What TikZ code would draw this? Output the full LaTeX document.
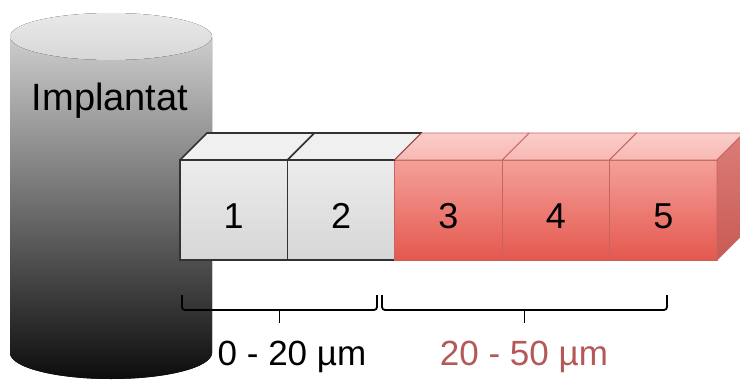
\documentclass[tikz,border=0pt]{standalone}
\usepackage{fontspec}
\setmainfont{Liberation Sans}
\usepackage{xcolor}
\usetikzlibrary{positioning}
\definecolor{edge}{RGB}{50,50,50}
\definecolor{gtopc}{RGB}{240,240,240}
\definecolor{gfa}{RGB}{236,236,236}
\definecolor{gfb}{RGB}{214,214,214}
\definecolor{redge}{RGB}{200,100,96}
\definecolor{rfa}{RGB}{244,160,154}
\definecolor{rfb}{RGB}{228,88,78}
\definecolor{rtopc}{RGB}{248,184,179}
\definecolor{rsa}{RGB}{220,125,120}
\definecolor{rsb}{RGB}{200,90,84}
\definecolor{lred}{RGB}{180,88,88}
\definecolor{cyla}{RGB}{205,205,205}
\definecolor{cylb}{RGB}{125,125,125}
\definecolor{cylc}{RGB}{12,12,12}
\tikzstyle{gc}=[draw=edge, line width=1.6pt, top color=gfa, bottom color=gfb,
		minimum width=107.4pt, minimum height=100pt, inner sep=0, outer sep=0,
		text height=37pt, text depth=0pt, font=\fontsize{36}{40}\selectfont]
\tikzstyle{rc}=[gc, draw=redge, line width=0.9pt, top color=rfa, bottom color=rfb]
\tikzstyle{gt}=[draw=edge, line width=1.6pt, fill=gtopc, line join=round]
\tikzstyle{rt}=[draw=redge, line width=0.9pt, top color=rtopc!70!white, bottom color=rtopc,
		line join=round]
\tikzstyle{brk}=[draw=black, line width=1.8pt, rounded corners=3pt]
\tikzstyle{txt}=[inner sep=0, font=\fontsize{35}{40}\selectfont]

\begin{document}
\begin{tikzpicture}[x=1pt, y=-1pt]
                \useasboundingbox (0,0) rectangle (740,383);
                \clip (0,0) rectangle (740,383);
                \fill[white] (0,0) rectangle (740,383);

                \fill[top color=cyla, middle color=cylb, bottom color=cylc] (10,36.5) -- (10,353)
                    arc[start angle=180, end angle=0, x radius=101, y radius=26] -- (212,36.5) -- cycle;
                \fill[top color=gtopc!80!cyla, bottom color=cyla!80!white] (111,36.5) ellipse[x radius=101, y radius=23.5];
                \node[txt, font=\fontsize{38}{42}\selectfont] (imp) at (110,101) {Implantat};

                \node[gc, anchor=north west] (c1) at (180,160) {1};
                \node[gc, right=0pt of c1] (c2) {2};
                \node[rc, right=0pt of c2] (c3) {3};
                \node[rc, right=0pt of c3] (c4) {4};
                \node[rc, right=0pt of c4] (c5) {5};

                \draw[gt] (c1.north west) -- ++(27,-27) -- ([shift={(27,-27)}]c1.north east) -- (c1.north east) -- cycle;
                \draw[gt] (c2.north west) -- ++(27,-27) -- ([shift={(27,-27)}]c2.north east) -- (c2.north east) -- cycle;
                \draw[rt] (c3.north west) -- ++(27,-27) -- ([shift={(27,-27)}]c3.north east) -- (c3.north east) -- cycle;
                \draw[rt] (c4.north west) -- ++(27,-27) -- ([shift={(27,-27)}]c4.north east) -- (c4.north east) -- cycle;
                \draw[rt] (c5.north west) -- ++(27,-27) -- ([shift={(27,-27)}]c5.north east) -- (c5.north east) -- cycle;
                \draw[draw=redge, line width=0.9pt, top color=rsa, bottom color=rsb, line join=round]
                    (c5.north east) -- ++(27,-27) -- ++(0,100) -- (c5.south east) -- cycle;

                \coordinate (t1) at (279.5,310);
                \coordinate (t2) at (524.5,310);
                \draw[brk] (182,295) |- (t1) -| (377,295);
                \draw[brk] (t1) -- ++(0,13);
                \draw[brk] (382,295) |- (t2) -| (667,295);
                \draw[brk] (t2) -- ++(0,13);

                \node[txt] (l1) at (292,357) {0 - 20 µm};
                \node[txt, text=lred] (l2) at (524,357) {20 - 50 µm};
            \end{tikzpicture}
\end{document}
